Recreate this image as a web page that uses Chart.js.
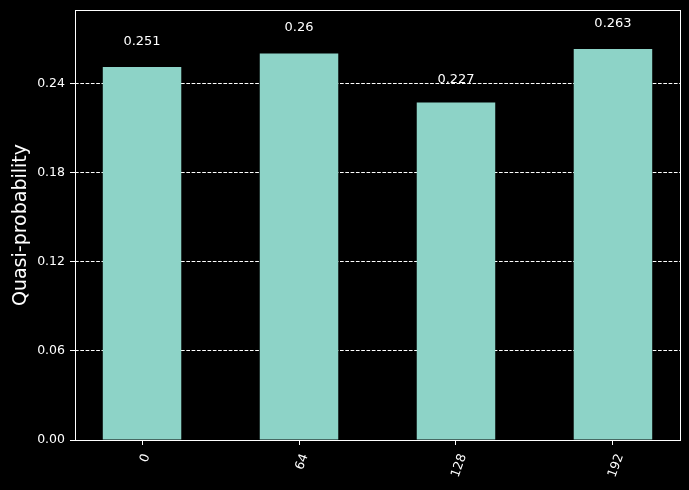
<!DOCTYPE html>
<html>
<head>
<meta charset="utf-8">
<script src="https://cdn.jsdelivr.net/npm/chart.js@4.4.0/dist/chart.umd.min.js"></script>
<style>
  html, body { margin: 0; padding: 0; background: #000; }
  #histCanvas { display: block; }
</style>
</head>
<body>
<canvas id="histCanvas" width="689" height="490"></canvas>
<script>
// Chart data
const categories = ['0', '64', '128', '192'];
const quasiProb = [0.251, 0.26, 0.227, 0.263];
const yTicks = [0, 0.06, 0.12, 0.18, 0.24];

const barColor = '#8dd3c7';
const fontFamily = '"DejaVu Sans", sans-serif';

// Plugin: frame, value labels above bars and rotated x tick labels
const histDecor = {
  id: 'histDecor',
  afterDraw(chart) {
    const ctx = chart.ctx;
    const area = chart.chartArea;
    const xScale = chart.scales.x;
    const yScale = chart.scales.y;
    ctx.save();

    // spines all round
    ctx.strokeStyle = '#ffffff';
    ctx.lineWidth = 1;
    ctx.strokeRect(75.5, 10.5, 605, 430);

    // value labels at 1.05 * height
    ctx.fillStyle = '#ffffff';
    ctx.font = '13px ' + fontFamily;
    ctx.textAlign = 'center';
    ctx.textBaseline = 'alphabetic';
    const meta = chart.getDatasetMeta(0);
    meta.data.forEach((bar, i) => {
      const y = yScale.getPixelForValue(quasiProb[i] * 1.05);
      ctx.fillText(String(quasiProb[i]), bar.x, y - 3);
    });

    // rotated category labels
    ctx.font = '12.5px ' + fontFamily;
    const angle = 70 * Math.PI / 180;
    const capH = 9;
    categories.forEach((label, i) => {
      const w = ctx.measureText(label).width;
      const cx = xScale.getPixelForValue(i) + 2;
      const cy = area.bottom + 12.5 + (w * Math.sin(angle) + capH * Math.cos(angle)) / 2;
      ctx.save();
      ctx.translate(cx, cy);
      ctx.rotate(-angle);
      ctx.fillText(label, 0, capH / 2);
      ctx.restore();
    });
    ctx.restore();
  }
};

function initializeChart() {
  const ctx = document.getElementById('histCanvas').getContext('2d');
  return new Chart(ctx, {
    type: 'bar',
    data: {
      datasets: [{
        data: quasiProb.map((v, i) => ({ x: i, y: v })),
        backgroundColor: barColor,
        borderWidth: 0,
        barPercentage: 0.5,
        categoryPercentage: 1.0
      }]
    },
    options: {
      responsive: false,
      animation: false,
      layout: { padding: { top: 10, right: 9, left: 0, bottom: 0 } },
      plugins: {
        legend: { display: false },
        tooltip: { enabled: false }
      },
      scales: {
        x: {
          type: 'linear',
          offset: false,
          min: -0.427,
          max: 3.427,
          afterBuildTicks: (scale) => {
            scale.ticks = categories.map((c, i) => ({ value: i }));
          },
          afterFit: (scale) => {
            scale.height = 50;
            scale.paddingLeft = 0;
            scale.paddingRight = 0;
          },
          ticks: { display: false },
          grid: {
            display: true,
            offset: false,
            drawOnChartArea: false,
            tickLength: 5,
            tickColor: '#ffffff',
            tickWidth: 1
          },
          border: { display: false }
        },
        y: {
          min: 0,
          max: 0.263 * 1.1,
          afterBuildTicks: (scale) => {
            scale.ticks = yTicks.map(v => ({ value: v }));
          },
          afterFit: (scale) => {
            scale.width = 75;
            scale.paddingTop = 0;
            scale.paddingBottom = 0;
          },
          ticks: {
            color: '#ffffff',
            padding: 5,
            font: { family: fontFamily, size: 12.5 },
            callback: (v) => Number(v).toFixed(2)
          },
          grid: {
            color: '#ffffff',
            lineWidth: 1,
            tickLength: 5,
            tickColor: '#ffffff',
            tickBorderDash: []
          },
          border: { display: false, dash: [3.7, 1.6] },
          title: {
            display: true,
            text: 'Quasi-probability',
            color: '#ffffff',
            font: { family: fontFamily, size: 19 },
            padding: { top: 10, bottom: 0 }
          }
        }
      }
    },
    plugins: [histDecor]
  });
}

document.addEventListener('DOMContentLoaded', () => {
  initializeChart();
});
</script>
</body>
</html>
